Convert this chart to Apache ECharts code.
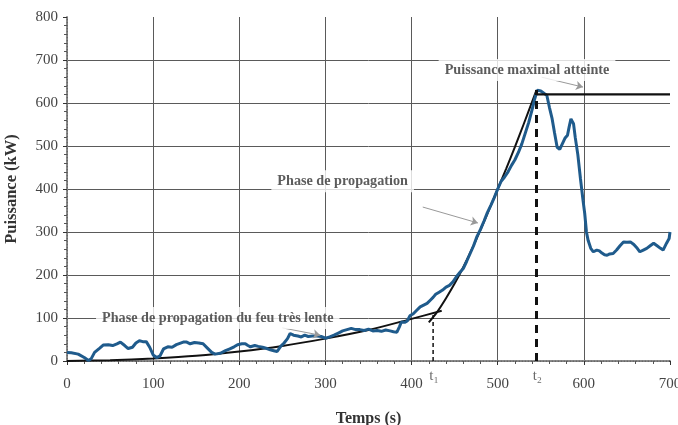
<!DOCTYPE html>
<html>
<head>
<meta charset="utf-8">
<title>Puissance (kW) en fonction du temps</title>
<script src="https://cdn.jsdelivr.net/npm/echarts@6/dist/echarts.min.js"></script>
<style>
  html, body { margin: 0; padding: 0; background: #fff; }
  #chart { width: 678px; height: 425px; }
</style>
</head>
<body>
<div id="chart"></div>
<script>
// Mesure de puissance (courbe bleue)
const tempsMesure = [0, 5, 13, 20, 25, 28, 32, 38, 42, 48, 53, 58, 62, 67, 71, 76, 80, 84, 88, 92, 96, 100,
  104, 108, 112, 117, 122, 127, 131, 135, 139, 143, 148, 153, 158, 163, 168, 172, 178, 184, 189, 194, 198,
  203, 207, 210, 213, 218, 222, 227, 232, 236, 240, 244, 248, 252, 256, 259, 263, 268, 272, 276, 280, 285,
  290, 295, 300, 305, 310, 315, 320, 325, 330, 335, 340, 345, 350, 355, 360, 365, 370, 375, 379, 383, 386,
  388, 392, 395, 398, 402, 406, 410, 414, 418, 422, 425, 428, 432, 436, 440, 444, 448, 452, 456, 460, 464,
  468, 472, 476, 480, 484, 488, 492, 496, 500, 504, 508, 512, 516, 520, 524, 528, 532, 536, 540, 543, 546,
  550, 554, 557, 560, 563, 566, 569, 572, 575, 578, 581, 583, 585, 588, 590, 593, 596, 599, 601, 603, 605,
  608, 611, 615, 618, 621, 624, 627, 630, 634, 638, 642, 646, 650, 654, 658, 662, 665, 669, 673, 677, 681,
  685, 689, 692, 696, 699, 700];
const puissanceMesure = [20, 19, 16, 8, 1, 5, 20, 30, 37, 38, 36, 40, 44, 36, 29, 32, 42, 47, 45, 45, 32, 14,
  8, 12, 28, 33, 32, 38, 41, 44, 44, 40, 43, 42, 40, 30, 20, 16, 18, 24, 28, 33, 38,
  40, 40, 36, 33, 36, 34, 32, 29, 26, 24, 22, 34, 42, 52, 64, 60, 58, 56, 60, 57, 58,
  58, 57, 53, 56, 60, 65, 70, 73, 76, 73, 73, 71, 74, 70, 71, 69, 72, 70, 68, 67, 80,
  90, 90, 93, 105, 110, 118, 126, 130, 134, 142, 148, 155, 160, 165, 172, 176, 184, 196, 206, 215, 232,
  250, 268, 290, 306, 325, 345, 362, 380, 400, 418, 428, 440, 455, 468, 485, 505, 530, 555, 585, 610, 630,
  628, 622, 618, 590, 565, 530, 497, 492, 505, 518, 525, 545, 563, 552, 520, 480, 425, 374, 343, 300, 280,
  262, 254, 258, 256, 251, 247, 246, 249, 250, 258, 268, 277, 276, 277, 271, 262, 254, 258, 262, 268, 274,
  268, 262, 258, 274, 285, 300];

// Courbe d'ajustement : phase de propagation très lente
const tempsLente = [0, 50, 100, 150, 200, 250, 300, 350, 400, 435];
const puissanceLente = [0, 2, 6, 12, 22, 35, 52, 72, 98, 117];

// Courbe d'ajustement : phase de propagation
const tempsPropagation = [420, 430, 440, 450, 460, 470, 480, 490, 500, 510, 520, 530, 545];
const puissancePropagation = [90, 115, 146, 180, 218, 260, 305, 352, 400, 448, 498, 550, 630];

// Palier de puissance maximale atteinte
const tempsPalier = [545, 700];
const puissancePalier = [620, 620];

// Instants caractéristiques t1 et t2
const instants = [425, 545];
const instantsHaut = [112, 630];
const instantsNoms = ['t\u2081', 't\u2082'];

// Graduations
const ticksTemps = [0, 100, 200, 300, 400, 500, 600, 700];
const ticksPuissance = [0, 100, 200, 300, 400, 500, 600, 700, 800];

const pairs = (xs, ys) => xs.map((x, i) => [x, ys[i]]);

const serif = '"Liberation Serif", "Times New Roman", serif';
const gridColor = '#5a5a5a';

const annotationLabel = {
  show: true,
  position: 'inside',
  fontFamily: serif,
  fontWeight: 'bold',
  fontSize: 14.2,
  color: '#333',
  backgroundColor: '#fff',
  padding: [4, 6]
};

const instantLabel = {
  fontWeight: 'normal',
  fontSize: 15,
  color: '#444',
  backgroundColor: 'transparent',
  padding: 0
};

const arrow = (from, to) => [
  { coord: from, symbol: 'none' },
  { coord: to, symbol: 'arrow', symbolSize: 7 }
];

const chart = echarts.init(document.getElementById('chart'));
chart.setOption({
  animation: false,
  backgroundColor: '#fff',
  grid: { left: 67, right: 8, top: 17, bottom: 64, outerBoundsMode: 'none', containLabel: false },
  xAxis: [{
    type: 'value',
    min: ticksTemps[0],
    max: ticksTemps[ticksTemps.length - 1],
    interval: 100,
    name: 'Temps (s)',
    nameLocation: 'middle',
    nameGap: 50,
    nameTextStyle: { fontFamily: serif, fontWeight: 'bold', fontSize: 16, color: '#333' },
    axisLine: { lineStyle: { color: '#333', width: 1.5 } },
    axisTick: { length: 4, lineStyle: { color: '#333' } },
    minorTick: { show: true, splitNumber: 5, length: 3, lineStyle: { color: '#555' } },
    axisLabel: { fontFamily: serif, fontSize: 15, color: '#444', margin: 16 },
    splitLine: { show: true, showMaxLine: false, lineStyle: { color: gridColor, width: 1 } }
  }, {
    type: 'value',
    position: 'top',
    min: 0, max: 700,
    axisLine: { show: true, lineStyle: { color: '#9a9a9a', width: 1.5, type: 'dotted' } },
    axisTick: { show: false },
    axisLabel: { show: false },
    splitLine: { show: false }
  }],
  yAxis: [{
    type: 'value',
    min: ticksPuissance[0],
    max: ticksPuissance[ticksPuissance.length - 1],
    interval: 100,
    name: 'Puissance (kW)',
    nameLocation: 'middle',
    nameGap: 47,
    nameTextStyle: { fontFamily: serif, fontWeight: 'bold', fontSize: 16.5, color: '#333' },
    axisLine: { show: true, lineStyle: { color: '#333', width: 1.5 } },
    axisTick: { show: true, length: 4, lineStyle: { color: '#333' } },
    minorTick: { show: true, splitNumber: 5, length: 3, lineStyle: { color: '#555' } },
    axisLabel: { fontFamily: serif, fontSize: 15, color: '#444', margin: 9 },
    splitLine: { show: true, showMaxLine: false, lineStyle: { color: gridColor, width: 1 } }
  }, {
    type: 'value',
    position: 'right',
    min: 0, max: 800,
    axisLine: { show: true, lineStyle: { color: '#9a9a9a', width: 1.5, type: 'dotted' } },
    axisTick: { show: false },
    axisLabel: { show: false },
    splitLine: { show: false }
  }],
  series: [
    {
      name: 'Ajustement lent',
      type: 'line',
      data: pairs(tempsLente, puissanceLente),
      smooth: 0.3,
      showSymbol: false,
      lineStyle: { color: '#111', width: 2 },
      z: 3
    },
    {
      name: 'Ajustement propagation',
      type: 'line',
      data: pairs(tempsPropagation, puissancePropagation),
      smooth: 0.3,
      showSymbol: false,
      lineStyle: { color: '#111', width: 2 },
      z: 3
    },
    {
      name: 'Mesure',
      type: 'line',
      data: pairs(tempsMesure, puissanceMesure),
      showSymbol: false,
      lineStyle: { color: '#1f5b8c', width: 3 },
      z: 4
    },
    {
      name: 'Palier',
      type: 'line',
      data: pairs(tempsPalier, puissancePalier),
      showSymbol: false,
      lineStyle: { color: '#111', width: 2.2 },
      z: 5
    },
    {
      name: 't1',
      type: 'line',
      data: [[instants[0], 0], [instants[0], instantsHaut[0]]],
      showSymbol: false,
      lineStyle: { color: '#111', width: 1.5, type: [4, 3] },
      z: 5
    },
    {
      name: 't2',
      type: 'line',
      data: [[instants[1], 0], [instants[1], instantsHaut[1]]],
      showSymbol: false,
      lineStyle: { color: '#111', width: 3, type: [8, 6] },
      z: 5
    },
    {
      name: 'Annotations',
      type: 'scatter',
      symbolSize: 0,
      silent: true,
      clip: false,
      z: 6,
      label: annotationLabel,
      data: [
        { value: [175, 100], label: { formatter: 'Phase de propagation du feu très lente' } },
        { value: [320, 418], label: { formatter: 'Phase de propagation' } },
        { value: [534, 677], label: { formatter: 'Puissance maximal atteinte' } },
        { value: [instants[0] + 1, -34], label: Object.assign({ formatter: instantsNoms[0] }, instantLabel) },
        { value: [instants[1] + 1, -34], label: Object.assign({ formatter: instantsNoms[1] }, instantLabel) }
      ],
      markLine: {
        silent: true,
        symbol: ['none', 'arrow'],
        label: { show: false },
        lineStyle: { color: '#999', width: 1, type: 'solid' },
        data: [
          arrow([250, 77], [294, 60]),
          arrow([413, 358], [477, 321]),
          arrow([551, 660], [599, 637])
        ]
      }
    }
  ]
});
</script>
</body>
</html>
